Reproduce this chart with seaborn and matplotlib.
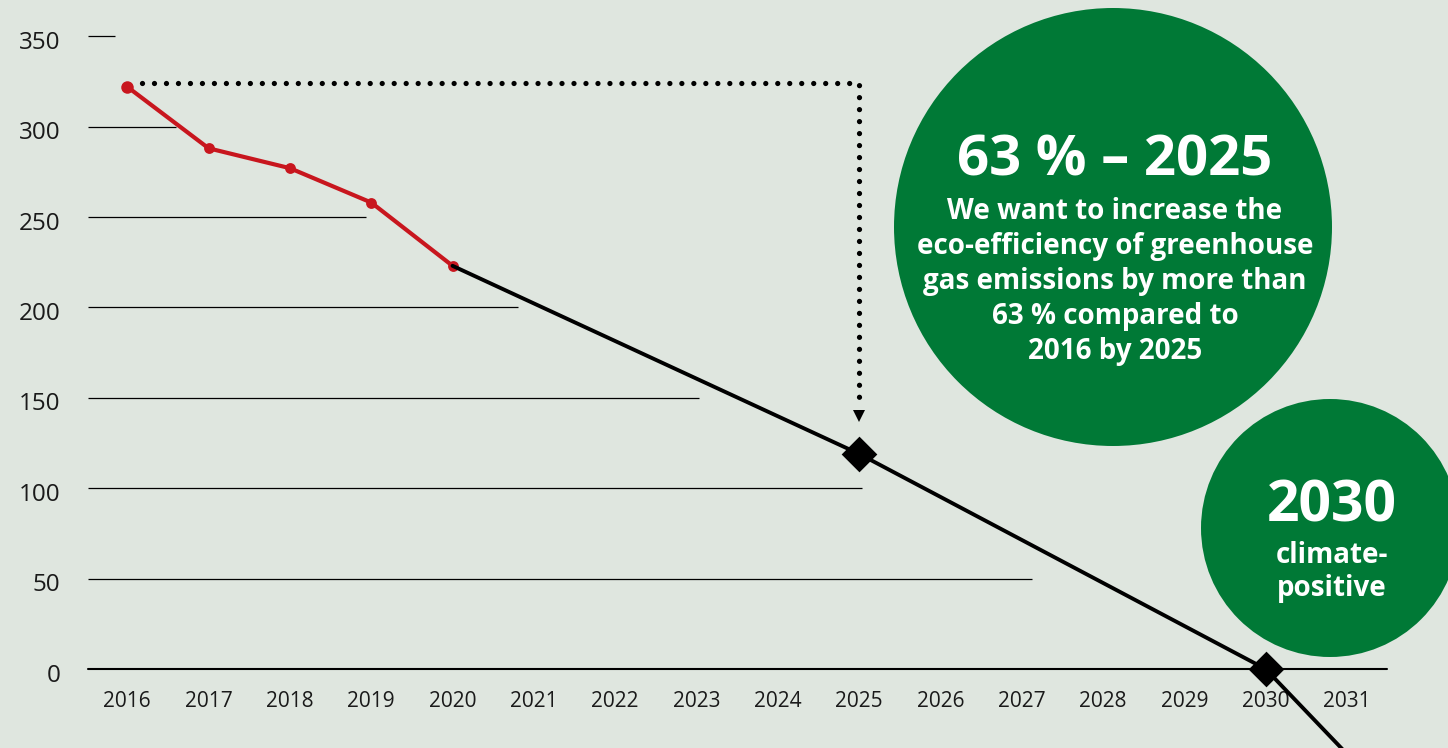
import matplotlib
matplotlib.use("Agg")
import matplotlib.pyplot as plt
import matplotlib.transforms as mtransforms
import seaborn as sns
from matplotlib.patches import Ellipse

# Greenhouse gas eco-efficiency: actual values and target path
years_actual = [2016, 2017, 2018, 2019, 2020]
values_actual = [322, 288, 277, 258, 223]

years_target = [2020, 2025, 2030, 2031]
values_target = [223, 119, 0, -47]

milestone_years = [2025, 2030]
milestone_values = [119, 0]

x_ticks = list(range(2016, 2032))
y_ticks = [0, 50, 100, 150, 200, 250, 300, 350]

# horizontal reference lines end at staggered positions (in years)
grid_ends = [2027.13, 2025.03, 2023.03, 2020.81, 2018.94, 2016.60, 2015.85]

title_big = "63 % \u2013 2025"
title_body = ["We want to increase the",
              "eco-efficiency of greenhouse",
              "gas emissions by more than",
              "63 % compared to",
              "2016 by 2025"]
small_big = "2030"
small_body = ["climate-", "positive"]

BG = "#dfe6df"
RED = "#c8161e"
GREEN = "#007936"

sns.set_theme(style="white", rc={"axes.facecolor": BG, "figure.facecolor": BG})
plt.rcParams["font.family"] = ["Open Sans", "DejaVu Sans"]

W, H = 1448, 748
fig = plt.figure(figsize=(W / 100, H / 100), dpi=100)
fig.patch.set_facecolor(BG)

left_px, right_px, zero_px = 88, 1387, 669
ax = fig.add_axes([left_px / W, (H - zero_px) / H, (right_px - left_px) / W, zero_px / H])
ax.set_facecolor(BG)

PX_YEAR = 81.31
PX_UNIT = 1.808
X0_PX = 127.3
x_left = 2016 - (X0_PX - left_px) / PX_YEAR
x_right = 2016 + (right_px - X0_PX) / PX_YEAR
ax.set_xlim(x_left, x_right)
ax.set_ylim(0, zero_px / PX_UNIT)


def px_x(px):
    return 2016 + (px - X0_PX) / PX_YEAR


def px_y(py):
    return (zero_px - py) / PX_UNIT


# staggered horizontal lines
for yv, xe in zip(y_ticks[1:], grid_ends):
    ax.hlines(yv, x_left, xe, color="black", lw=0.9, zorder=2)
ax.axhline(0, color="black", lw=1.5, zorder=2, clip_on=False)

# green circles (round in pixel space)
for cx, cy, r in [(1113, 227, 219), (1330, 528, 129)]:
    ax.add_patch(Ellipse((px_x(cx), px_y(cy)), 2 * r / PX_YEAR, 2 * r / PX_UNIT,
                         facecolor=GREEN, edgecolor="none", zorder=1, clip_on=False))

# dotted reference from the 2016 level to the 2025 target
ref_level = 324
ax.plot([2016.18, 2025, 2025], [ref_level, ref_level, 148], color="black",
        lw=3.8, linestyle=(0, (0.001, 2.27)), dash_capstyle="round",
        solid_capstyle="round", zorder=3)
ax.plot([2025], [140], marker="v", ms=8.6, color="black", mew=0, zorder=3)

# actual values
sns.lineplot(x=years_actual, y=values_actual, color=RED, lw=3.0, marker="o",
             markersize=7.8, markeredgewidth=0, ax=ax, zorder=4)
ax.plot(years_actual[:1], values_actual[:1], "o", color=RED, ms=9.0, mew=0, zorder=4)

# target path
sns.lineplot(x=years_target, y=values_target, color="black", lw=2.8, ax=ax,
             zorder=5, clip_on=False)
sns.scatterplot(x=milestone_years, y=milestone_values, marker="D", s=330,
                color="black", linewidth=0, ax=ax, zorder=6, clip_on=False)

# axes styling
for s in ax.spines.values():
    s.set_visible(False)
ax.set_xticks(x_ticks)
ax.set_xticklabels([str(y) for y in x_ticks])
ax.set_yticks(y_ticks)
ax.set_yticklabels([str(v) for v in y_ticks])
ax.tick_params(axis="x", length=0, pad=16, labelsize=15, labelcolor="#1a1a1a")
ax.tick_params(axis="y", length=0, pad=20, labelsize=17.5, labelcolor="#1a1a1a")
shift = mtransforms.ScaledTranslation(0, -3.5 / 100, fig.dpi_scale_trans)
for lbl in ax.get_yticklabels():
    lbl.set_transform(lbl.get_transform() + shift)
ax.set_xlabel("")
ax.set_ylabel("")
ax.grid(False)


def fig_text(px, py, s, size):
    fig.text(px / W, 1 - py / H, s, color="white", fontsize=size, fontweight="bold",
             ha="center", va="baseline", zorder=10)


fig_text(1115, 175, title_big, 40.5)
for i, line in enumerate(title_body):
    fig_text(1115, 219 + 35 * i, line, 20)

fig_text(1332, 522, small_big, 41)
for i, line in enumerate(small_body):
    fig_text(1332, 563 + 33 * i, line, 20)

fig.savefig("out.png", dpi=100, facecolor=BG)
